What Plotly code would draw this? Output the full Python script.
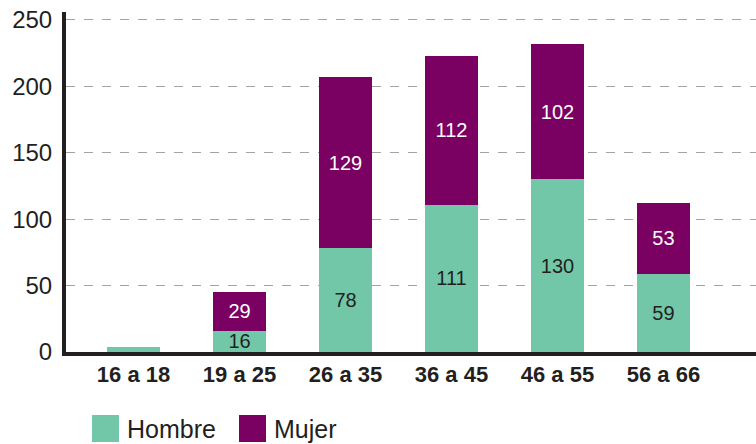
import plotly.graph_objects as go

categories = ["16 a 18", "19 a 25", "26 a 35", "36 a 45", "46 a 55", "56 a 66"]
hombre = [4, 16, 78, 111, 130, 59]
mujer = [0, 29, 129, 112, 102, 53]
hombre_labels = ["", "16", "78", "111", "130", "59"]
mujer_labels = ["", "29", "129", "112", "102", "53"]
y_ticks = [0, 50, 100, 150, 200, 250]

GREEN = "#72c7a8"
PURPLE = "#7a0062"
INK = "#231f20"
FONT = "Liberation Sans, Arial, Helvetica, sans-serif"

fig = go.Figure()
fig.add_trace(go.Bar(
    x=categories, y=hombre, name="Hombre", marker=dict(color=GREEN, line=dict(width=0)),
    text=hombre_labels, texttemplate="%{text}", textposition="inside", insidetextanchor="middle",
    textfont=dict(color=INK, size=20, family=FONT), width=0.5,
))
fig.add_trace(go.Bar(
    x=categories, y=mujer, name="Mujer", marker=dict(color=PURPLE, line=dict(width=0)),
    text=mujer_labels, texttemplate="%{text}", textposition="inside", insidetextanchor="middle",
    textfont=dict(color="white", size=20, family=FONT), width=0.5,
))

# legend drawn as swatches + labels below the axis
W, H = 756, 444
L, T, PW, PH = 66, 12, 690, 340
legend_items = [("Hombre", GREEN, 92), ("Mujer", PURPLE, 239)]
for name, color, px in legend_items:
    fig.add_shape(type="rect", xref="paper", yref="paper",
                  x0=(px - L) / PW, x1=(px + 27 - L) / PW,
                  y0=(T + PH - 442) / PH, y1=(T + PH - 415) / PH,
                  fillcolor=color, line=dict(width=0))
    fig.add_annotation(xref="paper", yref="paper", x=(px + 33 - L) / PW, y=(T + PH - 429) / PH,
                       text=name, showarrow=False, xanchor="left", yanchor="middle",
                       font=dict(size=25, color=INK, family=FONT))

fig.update_layout(
    width=W, height=H, barmode="stack", showlegend=False,
    margin=dict(l=L, r=W - L - PW, t=T, b=H - T - PH),
    plot_bgcolor="white", paper_bgcolor="white",
    font=dict(family=FONT, color=INK),
    uniformtext=dict(mode="show", minsize=20),
    xaxis=dict(range=[-0.637, 5.873], showgrid=False, ticks="",
               showline=True, linecolor=INK, linewidth=4,
               tickfont=dict(size=22, family=FONT, color=INK),
               tickprefix="<b>", ticksuffix="</b>"),
    yaxis=dict(range=[0, 256], tickvals=y_ticks, showgrid=True, gridcolor="#a3a3a3",
               griddash="dash", gridwidth=1.2, zeroline=False,
               showline=True, linecolor=INK, linewidth=4, ticks="",
               tickfont=dict(size=24, color=INK), ticklabelstandoff=5),
)

fig.write_html("out.html")
